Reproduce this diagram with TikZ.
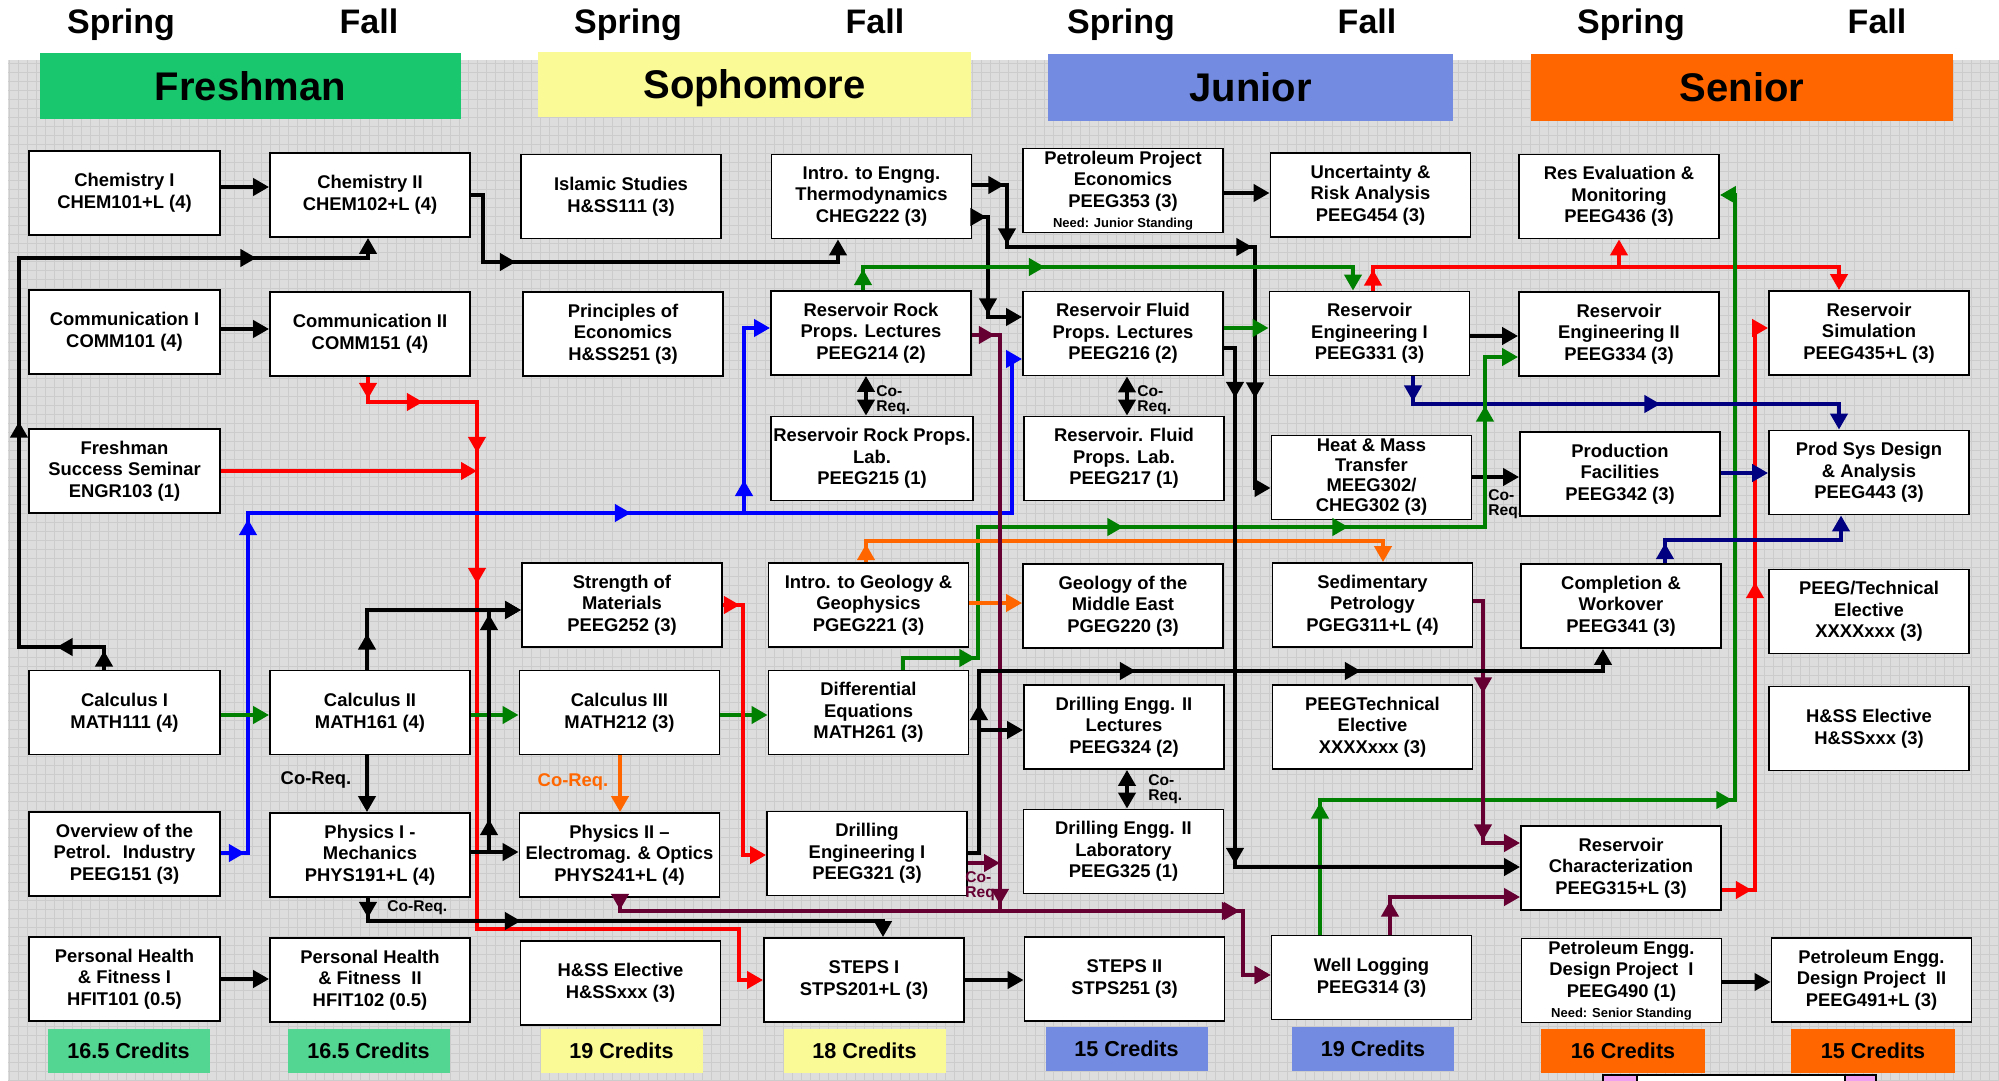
\documentclass[tikz,border=0pt]{standalone}
\usepackage{fontspec}
\setmainfont{Liberation Sans}
\usetikzlibrary{arrows.meta,decorations.markings}
\definecolor{bggray}{RGB}{221,221,221}
\definecolor{bgline}{RGB}{204,204,204}
\definecolor{fresh}{RGB}{25,200,110}
\definecolor{soph}{RGB}{250,250,150}
\definecolor{jun}{RGB}{115,140,225}
\definecolor{sen}{RGB}{255,102,0}
\definecolor{lnavy}{RGB}{0,0,128}
\definecolor{lgreen}{RGB}{0,128,0}
\definecolor{lmaroon}{RGB}{102,0,51}
\definecolor{lorange}{RGB}{255,102,0}
\definecolor{lblue}{RGB}{0,0,255}
\definecolor{lred}{RGB}{255,0,0}
\definecolor{pinkend}{RGB}{240,160,240}
\newcommand\boxfont{\fontsize{9.2}{10.8}\selectfont\bfseries}
\tikzset{
  >={Triangle[length=8pt,width=8.5pt]},
  course/.style={draw=black, line width=0.9pt, fill=white, align=center,
    minimum width=100pt, minimum height=42pt, inner sep=1pt, font=\boxfont},
  narrow/.style={course, minimum width=95.5pt},
  link/.style={->, color=#1, line width=2.3pt},
  coreq/.style={<->, line width=2.3pt},
  arrowat/.style={postaction={decorate, decoration={markings,
      mark=at position #1 with {\arrow{>}}}}},
  season/.style={anchor=base, font=\fontsize{17}{17}\selectfont\bfseries},
  banner/.style={inner sep=0pt, minimum height=33pt, text depth=0pt,
    font=\fontsize{20}{20}\selectfont\bfseries},
  credits/.style={inner sep=0pt, minimum width=81pt, minimum height=22pt,
    font=\fontsize{10.8}{11}\selectfont\bfseries},
  lbl/.style={anchor=west, align=left, inner sep=0pt, font=\fontsize{7.8}{7.6}\selectfont\bfseries},
  biglbl/.style={inner sep=0pt, font=\boxfont},
}
\begin{document}
\begin{tikzpicture}[x=0.5pt, y=-0.5pt]
  \useasboundingbox (0,0) rectangle (1999,1081);
  \fill[bggray] (8,60) rectangle (1999,1081);
  \draw[bgline, line width=0.25pt] (8,60) grid[step=4.5pt] (1999,1081);

  \node[season] (sp1) at (121,34) {Spring};
  \node[season] (fa1) at (369,34) {Fall};
  \node[season] (sp2) at (628,34) {Spring};
  \node[season] (fa2) at (875,34) {Fall};
  \node[season] (sp3) at (1121,34) {Spring};
  \node[season] (fa3) at (1367,34) {Fall};
  \node[season] (sp4) at (1631,34) {Spring};
  \node[season] (fa4) at (1877,34) {Fall};

  \node[banner, fill=fresh, minimum width=210.5pt] (freshman) at (250.5,86) {Freshman};
  \node[banner, fill=soph, minimum width=216.5pt, minimum height=32.5pt] (sophomore) at (754.5,84.5) {Sophomore};
  \node[banner, fill=jun, minimum width=202.5pt, minimum height=33.5pt] (junior) at (1250.5,87.5) {Junior};
  \node[banner, fill=sen, minimum width=211pt, minimum height=33.5pt] (senior) at (1742,87.5) {Senior};

  \node[narrow] (chemI) at (124.5,193) {Chemistry I\\CHEM101+L (4)};
  \node[course] (chemII) at (370,195) {Chemistry II\\CHEM102+L (4)};
  \node[narrow] (commI) at (124.5,332) {Communication I\\COMM101 (4)};
  \node[course] (commII) at (370,334) {Communication II\\COMM151 (4)};
  \node[narrow] (fss) at (124.5,471) {Freshman\\Success Seminar\\ENGR103 (1)};
  \node[narrow] (calcI) at (124.5,712.5) {Calculus I\\MATH111 (4)};
  \node[course] (calcII) at (370,712.5) {Calculus II\\MATH161 (4)};
  \node[narrow] (overview) at (124.5,854) {Overview of the\\Petrol.~ Industry\\PEEG151 (3)};
  \node[course] (physI) at (370,855) {Physics I -\\Mechanics\\PHYS191+L (4)};
  \node[narrow] (phfI) at (124.5,979) {Personal Health\\\& Fitness I\\HFIT101 (0.5)};
  \node[course] (phfII) at (370,980) {Personal Health\\\& Fitness~ II\\HFIT102 (0.5)};

  \node[course] (islamic) at (621,196.5) {Islamic Studies\\H\&SS111 (3)};
  \node[course] (econ) at (623,334) {Principles of\\Economics\\H\&SS251 (3)};
  \node[course] (strength) at (622,605) {Strength of\\Materials\\PEEG252 (3)};
  \node[course] (calcIII) at (619.5,712.5) {Calculus III\\MATH212 (3)};
  \node[course] (physII) at (619.5,855) {Physics II --\\Electromag. \& Optics\\PHYS241+L (4)};
  \node[course] (hssA) at (620.5,983) {H\&SS Elective\\H\&SSxxx (3)};

  \node[course] (thermo) at (871.5,196.5) {Intro. to Engng.\\Thermodynamics\\CHEG222 (3)};
  \node[course] (rockL) at (871,333) {Reservoir Rock\\Props. Lectures\\PEEG214 (2)};
  \node[course] (rockLab) at (872,458.5) {Reservoir Rock Props.\\Lab.\\PEEG215 (1)};
  \node[course] (geo) at (868.5,605) {Intro. to Geology \&\\Geophysics\\PGEG221 (3)};
  \node[course] (diffeq) at (868.5,712.5) {Differential\\Equations\\MATH261 (3)};
  \node[course] (drillI) at (867,853.5) {Drilling\\Engineering I\\PEEG321 (3)};
  \node[course] (stepsI) at (864,980) {STEPS I\\STPS201+L (3)};

  \node[course] (ppe) at (1123,190.5) {Petroleum Project\\Economics\\PEEG353 (3)\\[-1pt]{\fontsize{6.5}{6.5}\selectfont Need: Junior Standing}};
  \node[course] (fluidL) at (1123,333.5) {Reservoir Fluid\\Props. Lectures\\PEEG216 (2)};
  \node[course] (fluidLab) at (1124,458.5) {Reservoir. Fluid\\Props. Lab.\\PEEG217 (1)};
  \node[course] (geoME) at (1123,606) {Geology of the\\Middle East\\PGEG220 (3)};
  \node[course] (drillIIL) at (1124,727) {Drilling Engg. II\\Lectures\\PEEG324 (2)};
  \node[course] (drillIILab) at (1123.5,851.5) {Drilling Engg. II\\Laboratory\\PEEG325 (1)};
  \node[course] (stepsII) at (1124.5,979) {STEPS II\\STPS251 (3)};

  \node[course] (uncert) at (1370.5,195) {Uncertainty \&\\Risk Analysis\\PEEG454 (3)};
  \node[course] (resEngI) at (1369.5,333.5) {Reservoir\\Engineering I\\PEEG331 (3)};
  \node[course, font=\fontsize{9.2}{10}\selectfont\bfseries] (heat) at (1371.5,477.5) {Heat \& Mass\\Transfer\\MEEG302/\\CHEG302 (3)};
  \node[course] (sedim) at (1372.5,605) {Sedimentary\\Petrology\\PGEG311+L (4)};
  \node[course] (techA) at (1372.5,727) {PEEGTechnical\\Elective\\XXXXxxx (3)};
  \node[course] (welllog) at (1371.5,977.5) {Well Logging\\PEEG314 (3)};

  \node[course] (resEval) at (1619,196.5) {Res Evaluation \&\\Monitoring\\PEEG436 (3)};
  \node[course] (resEngII) at (1619,334) {Reservoir\\Engineering II\\PEEG334 (3)};
  \node[course] (prodFac) at (1620,474) {Production\\Facilities\\PEEG342 (3)};
  \node[course] (compl) at (1621,606) {Completion \&\\Workover\\PEEG341 (3)};
  \node[course] (resChar) at (1621,868) {Reservoir\\Characterization\\PEEG315+L (3)};
  \node[course] (designI) at (1621.5,980.5) {Petroleum Engg.\\Design Project~ I\\PEEG490 (1)\\[-1pt]{\fontsize{6.5}{6.5}\selectfont Need: Senior Standing}};

  \node[course] (resSim) at (1869,333) {Reservoir\\Simulation\\PEEG435+L (3)};
  \node[course] (prodSys) at (1869,472.5) {Prod Sys Design\\\& Analysis\\PEEG443 (3)};
  \node[course] (techB) at (1869,611.5) {PEEG/Technical\\Elective\\XXXXxxx (3)};
  \node[course] (hssB) at (1869,728.5) {H\&SS Elective\\H\&SSxxx (3)};
  \node[course] (designII) at (1871.5,980) {Petroleum Engg.\\Design Project~ II\\PEEG491+L (3)};

  \node[credits, fill=fresh!75] (cr1) at (128.5,1051) {16.5 Credits};
  \node[credits, fill=fresh!75] (cr2) at (368.5,1051) {16.5 Credits};
  \node[credits, fill=soph] (cr3) at (621.5,1051) {19 Credits};
  \node[credits, fill=soph] (cr4) at (864.5,1051) {18 Credits};
  \node[credits, fill=jun] (cr5) at (1126.5,1049) {15 Credits};
  \node[credits, fill=jun] (cr6) at (1373,1049) {19 Credits};
  \node[credits, fill=sen, minimum width=82pt] (cr7) at (1623,1050.5) {16 Credits};
  \node[credits, fill=sen, minimum width=82pt] (cr8) at (1873,1050.5) {15 Credits};

  \draw[line width=0.9pt, fill=white] (1603,1075) rectangle (1876,1100);
  \fill[pinkend] (1604,1076) rectangle (1637,1100);
  \fill[pinkend] (1845,1076) rectangle (1875,1100);
  \draw[line width=0.9pt] (1637,1075) -- (1637,1100) (1845,1075) -- (1845,1100);

  \coordinate (redjoin) at (477,471);
  \coordinate (bluejoin) at (744,513);
  \coordinate (redsplit) at (1619,267);
  \coordinate (mjoin) at (1000,863);
  \coordinate (blkjoin) at (979,730);

  \draw[link=black] (chemI.east |- 0,187) -- (chemII.west |- 0,187);
  \draw[link=black] (commI.east |- 0,329) -- (commII.west |- 0,329);
  \draw[link=black] (phfI.east |- 0,979) -- (phfII.west |- 0,979);
  \draw[link=black, arrowat=56pt] (chemII.east |- 0,195) -- (483,195) -- (483,262) -- (838,262) -- (thermo.south -| 838,0);
  \draw[link=black, arrowat=9.5pt, arrowat=35pt, arrowat=166.5pt, arrowat=367pt]
    (calcI.north -| 104,0) -- (104,647) -- (19,647) -- (19,258) -- (368,258) -- (chemII.south -| 368,0);
  \draw[link=lred, arrowat=11pt, arrowat=40pt, arrowat=92.5pt, arrowat=158pt]
    (commII.south -| 368,0) -- (368,402) -- (477,402) -- (477,929) -- (739,929) -- (739,980) -- (stepsI.west |- 0,980);
  \draw[link=lred] (fss.east |- 0,471) -- (redjoin);
  \draw[link=lblue, arrowat=12pt, arrowat=180.5pt, arrowat=375pt]
    (overview.east |- 0,853) -- (248,853) -- (248,513) -- (1012,513) -- (1012,359) -- (fluidL.west |- 0,359);
  \draw[link=lblue, arrowat=16.5pt] (bluejoin) -- (744,328) -- (rockL.west |- 0,328);
  \draw[link=lgreen] (calcI.east |- 0,715) -- (calcII.west |- 0,715);
  \draw[link=lgreen] (calcII.east |- 0,715) -- (calcIII.west |- 0,715);
  \draw[link=lgreen] (calcIII.east |- 0,715) -- (diffeq.west |- 0,715);
  \draw[link=black, arrowat=18pt] (calcII.north -| 367,0) -- (367,610) -- (strength.west |- 0,610);
  \draw[link=black] (calcII.south -| 367,0) -- (physI.north -| 367,0);
  \node[biglbl] (crq1) at (316,780) {Co-Req.};
  \draw[link=black] (physI.east |- 0,852) -- (physII.west |- 0,852);
  \draw[link=black, arrowat=25.5pt, arrowat=128pt] (physI.east |- 0,852) -- (489,852) -- (489,610) -- (strength.west |- 0,610);
  \draw[link=black, arrowat=10pt, arrowat=88pt] (physI.south -| 368,0) -- (368,921) -- (883,921) -- (stepsI.north -| 883,0);
  \node[lbl] (crq2) at (387,908) {Co-Req.};
  \draw[link=lorange] (calcIII.south -| 620,0) -- (physII.north -| 620,0);
  \node[biglbl, text=lorange] (crq3) at (573,782) {Co-Req.};
  \draw[link=lred, arrowat=8.5pt] (strength.east |- 0,605) -- (743,605) -- (743,855) -- (drillI.west |- 0,855);

  \draw[link=black, arrowat=7pt, arrowat=56.5pt] (thermo.east |- 0,217) -- (988,217) -- (988,317) -- (fluidL.west |- 0,317);
  \draw[link=black, arrowat=16pt, arrowat=47pt, arrowat=171pt, arrowat=248pt]
    (thermo.east |- 0,185) -- (1007,185) -- (1007,247) -- (1255,247) -- (1255,488) -- (heat.west |- 0,488);
  \draw[link=lgreen, arrowat=10.5pt, arrowat=102.5pt] (rockL.north -| 863,0) -- (863,267) -- (1353,267) -- (resEngI.north -| 1353,0);
  \draw[coreq] (rockL.south -| 866,0) -- (rockLab.north -| 866,0);
  \node[lbl] (crq4) at (876,400) {Co-\\Req.};
  \draw[coreq] (fluidL.south -| 1127,0) -- (fluidLab.north -| 1127,0);
  \node[lbl] (crq5) at (1137,400) {Co-\\Req.};
  \draw[coreq] (drillIIL.south -| 1127,0) -- (drillIILab.north -| 1127,0);
  \node[lbl] (crq6) at (1148,789) {Co-\\Req.};
  \draw[link=black] (ppe.east |- 0,193) -- (uncert.west |- 0,193);
  \draw[link=lgreen] (fluidL.east |- 0,328) -- (resEngI.west |- 0,328);
  \draw[link=black] (resEngI.east |- 0,336) -- (resEngII.west |- 0,336);
  \draw[link=lred, arrowat=10.5pt] (resEngI.north -| 1373,0) -- (1373,267) -- (1839,267) -- (resSim.north -| 1839,0);
  \draw[link=lred] (redsplit) -- (resEval.south -| 1619,0);
  \draw[link=lgreen, arrowat=66pt, arrowat=273.5pt]
    (welllog.north -| 1320,0) -- (1320,800) -- (1735,800) -- (1735,195) -- (resEval.east |- 0,195);
  \draw[link=lred, arrowat=15pt, arrowat=170.5pt] (resChar.east |- 0,890) -- (1755,890) -- (1755,328) -- (resSim.west |- 0,328);
  \draw[link=lnavy, arrowat=12.5pt, arrowat=137.5pt] (resEngI.south -| 1413,0) -- (1413,404) -- (1839,404) -- (prodSys.north -| 1839,0);
  \draw[link=lnavy] (prodFac.east |- 0,473) -- (prodSys.west |- 0,473);
  \draw[link=lnavy, arrowat=10pt] (compl.north -| 1665,0) -- (1665,540) -- (1841,540) -- (prodSys.south -| 1841,0);
  \draw[link=black] (heat.east |- 0,477) -- (prodFac.west |- 0,477);
  \node[lbl] (crq7) at (1488,504) {Co-\\Req.};
  \draw[link=lgreen, arrowat=42pt, arrowat=181.5pt, arrowat=294pt, arrowat=423pt]
    (diffeq.north -| 903,0) -- (903,658) -- (978,658) -- (978,527) -- (1485,527) -- (1485,357) -- (resEngII.west |- 0,357);
  \draw[link=lorange, arrowat=9pt] (geo.north -| 866,0) -- (866,541) -- (1383,541) -- (sedim.north -| 1383,0);
  \draw[link=lorange] (geo.east |- 0,603) -- (geoME.west |- 0,603);
  \draw[link=lmaroon, arrowat=11.5pt, arrowat=299pt, arrowat=421pt]
    (rockL.east |- 0,335) -- (1000,335) -- (1000,911) -- (1243,911) -- (1243,975) -- (welllog.west |- 0,975);
  \draw[link=lmaroon, arrowat=6pt, arrowat=316.5pt] (physII.south -| 620,0) -- (620,911) -- (1243,911) -- (1243,975) -- (welllog.west |- 0,975);
  \draw[link=lmaroon] (drillI.east |- 0,863) -- (mjoin);
  \node[lbl, text=lmaroon] (crq8) at (965,886) {Co-\\Req};
  \draw[link=lmaroon, arrowat=51pt, arrowat=124.5pt] (sedim.east |- 0,601) -- (1483,601) -- (1483,843) -- (resChar.west |- 0,843);
  \draw[link=lmaroon, arrowat=17pt] (welllog.north -| 1390,0) -- (1390,897) -- (resChar.west |- 0,897);
  \draw[link=black, arrowat=80pt, arrowat=175pt, arrowat=287.5pt]
    (drillI.east |- 0,853) -- (979,853) -- (979,671) -- (1603,671) -- (compl.south -| 1603,0);
  \draw[link=black] (blkjoin) -- (drillIIL.west |- 0,730);
  \draw[link=black, arrowat=30.5pt, arrowat=263.5pt] (fluidL.east |- 0,348) -- (1235,348) -- (1235,867) -- (resChar.west |- 0,867);
  \draw[link=black] (stepsI.east |- 0,980) -- (stepsII.west |- 0,980);
  \draw[link=black] (designI.east |- 0,982) -- (designII.west |- 0,982);
\end{tikzpicture}
\end{document}
